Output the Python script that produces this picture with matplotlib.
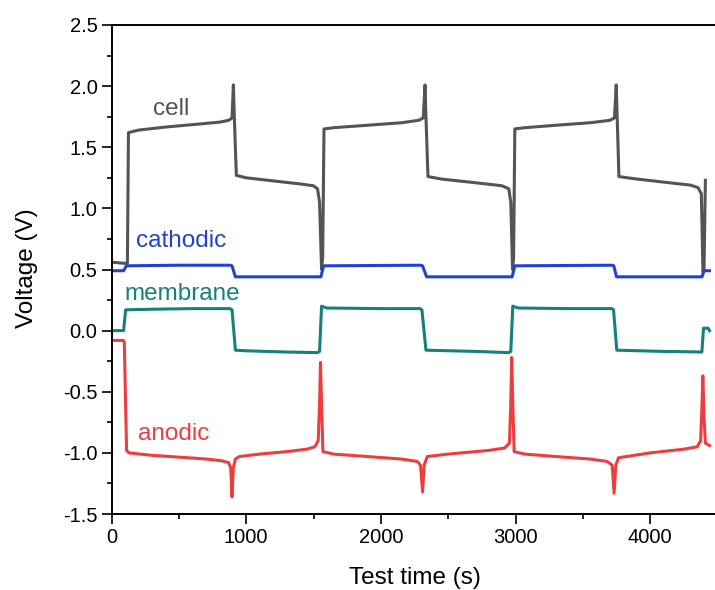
import numpy as np
import matplotlib.pyplot as plt

plt.rcParams['font.family'] = ['Liberation Sans', 'DejaVu Sans']

# time points (s) and voltages (V)
t_cell = [0, 100, 118, 126, 200, 400, 600, 800, 870, 895, 905, 912, 927, 1000, 1200, 1400,
          1500, 1530, 1545, 1560, 1568, 1578, 1650, 1900, 2150, 2280, 2315, 2328, 2335, 2350,
          2450, 2700, 2900, 2950, 2965, 2978, 2986, 2995, 3070, 3300, 3550, 3700, 3735, 3748,
          3755, 3768, 3900, 4100, 4300, 4355, 4380, 4392, 4400, 4410]
v_cell = [0.56, 0.55, 0.55, 1.62, 1.64, 1.665, 1.685, 1.705, 1.72, 1.74, 2.01, 1.75, 1.27, 1.25, 1.225, 1.20,
          1.185, 1.16, 1.05, 0.50, 0.60, 1.65, 1.66, 1.68, 1.70, 1.72, 1.74, 2.01, 1.75, 1.26,
          1.24, 1.21, 1.185, 1.16, 1.05, 0.50, 0.60, 1.65, 1.66, 1.68, 1.70, 1.72, 1.74, 2.01,
          1.75, 1.26, 1.24, 1.215, 1.19, 1.17, 1.12, 0.48, 0.50, 1.23]

t_cath = [0, 90, 110, 500, 880, 895, 920, 1540, 1555, 1575, 2295, 2310, 2340, 2960, 2975, 2995,
          3720, 3730, 3750, 4385, 4400, 4440]
v_cath = [0.49, 0.49, 0.53, 0.535, 0.535, 0.53, 0.44, 0.44, 0.44, 0.53, 0.535, 0.53, 0.44, 0.44, 0.44, 0.53,
          0.535, 0.53, 0.44, 0.44, 0.49, 0.49]

t_mem = [0, 90, 105, 300, 600, 880, 895, 920, 1000, 1300, 1530, 1545, 1560, 1600, 2000, 2290,
         2305, 2335, 2700, 2950, 2965, 2980, 3020, 3400, 3715, 3728, 3752, 4100, 4384, 4396, 4430, 4441]
v_mem = [0.0, 0.0, 0.17, 0.175, 0.18, 0.18, 0.17, -0.16, -0.165, -0.175, -0.18, -0.17, 0.20, 0.185, 0.18, 0.18,
         0.17, -0.16, -0.17, -0.18, -0.17, 0.20, 0.185, 0.18, 0.18, 0.17, -0.16, -0.17, -0.175, 0.02, 0.02, 0.0]

t_an = [0, 85, 95, 112, 130, 300, 500, 700, 820, 870, 885, 895, 905, 920, 950, 1100, 1300,
        1450, 1510, 1535, 1545, 1552, 1560, 1570, 1650, 1900, 2150, 2270, 2295, 2310, 2322, 2345,
        2500, 2800, 2920, 2955, 2965, 2972, 2980, 2990, 3070, 3300, 3550, 3680, 3718, 3732, 3745,
        3765, 4000, 4250, 4350, 4375, 4385, 4391, 4400, 4410, 4441]
v_an = [-0.08, -0.08, -0.09, -0.98, -1.00, -1.02, -1.035, -1.05, -1.065, -1.08, -1.12, -1.36, -1.12, -1.05, -1.03, -1.01, -0.99,
        -0.97, -0.95, -0.90, -0.60, -0.26, -0.60, -0.99, -1.01, -1.03, -1.05, -1.07, -1.10, -1.32, -1.10, -1.03,
        -1.01, -0.98, -0.96, -0.92, -0.60, -0.22, -0.60, -0.99, -1.01, -1.03, -1.05, -1.07, -1.10, -1.33, -1.10,
        -1.04, -1.00, -0.97, -0.95, -0.90, -0.60, -0.37, -0.70, -0.92, -0.94]

c_cell = '#545454'
c_cath = '#2140d8'
c_mem = '#15807c'
c_an = '#ec3d3f'

fig = plt.figure(figsize=(7.15, 5.9), dpi=100)
ax = fig.add_axes([111.5 / 715, 76 / 590, 606 / 715, 489 / 590])

lw = 2.2
ax.plot(t_cell, v_cell, color=c_cell, lw=lw, solid_joinstyle='round')
ax.plot(t_cath, v_cath, color=c_cath, lw=lw, solid_joinstyle='round')
ax.plot(t_mem, v_mem, color=c_mem, lw=lw, solid_joinstyle='round')
ax.plot(t_an, v_an, color=c_an, lw=lw, solid_joinstyle='round')

# series labels
fs = 17.5
ax.text(307, 1.764, 'cell', color=c_cell, fontsize=fs, va='baseline')
ax.text(184, 0.686, 'cathodic', color=c_cath, fontsize=fs, va='baseline')
ax.text(97, 0.25, 'membrane', color=c_mem, fontsize=fs, va='baseline')
ax.text(196, -0.895, 'anodic', color=c_an, fontsize=fs, va='baseline')

ax.set_xlim(0, 4500)
ax.set_ylim(-1.5, 2.5)
ax.set_xticks(np.arange(0, 4001, 1000))
ax.set_xticks(np.arange(500, 4500, 1000), minor=True)
ax.set_yticks(np.arange(-1.5, 2.51, 0.5))
ax.set_yticks(np.arange(-1.25, 2.5, 0.5), minor=True)
ax.set_yticklabels([f'{v:.1f}' for v in np.arange(-1.5, 2.51, 0.5)])

ax.tick_params(which='major', direction='out', length=7, width=1.2, labelsize=14.5, pad=3)
ax.tick_params(which='minor', direction='out', length=3.5, width=1.2)
ax.spines['right'].set_visible(False)
for s in ['left', 'top', 'bottom']:
    ax.spines[s].set_linewidth(1.4)

fig.text(415 / 715, 1 - 578 / 590, 'Test time (s)', fontsize=fs, ha='center', va='center')
fig.text(27 / 715, 1 - 268 / 590, 'Voltage (V)', fontsize=fs, ha='center', va='center', rotation=90)

fig.savefig('out.png', dpi=100)
